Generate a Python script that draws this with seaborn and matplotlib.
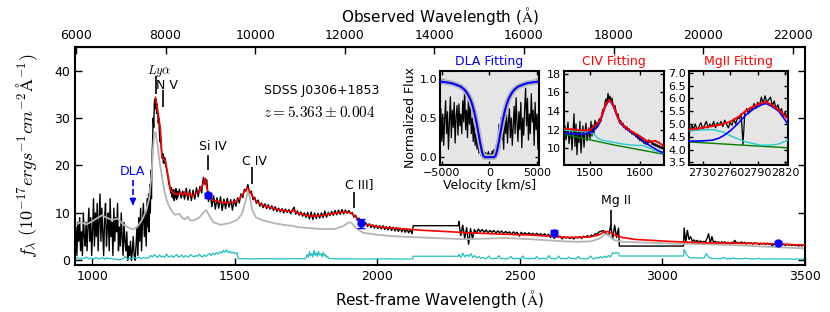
import matplotlib
matplotlib.use("Agg")
import matplotlib.pyplot as plt
import numpy as np
import seaborn as sns

z_qso = 5.363

# ---- main spectrum (rest-frame wavelength, flux in 1e-17 units) ----
# observed spectrum, in pieces: (start, stop) wavelength and flux values
forest_range = (940, 1196)
forest_flux = [3, 7, 1, 8, 4, 9, 2, 6, 1, 10, 5, 3, 8, 2, 7, 11, 4, 9, 1, 6,
               13, 3, 10, 5, 12, 2, 8, 14, 4, 11, 6, 1, 9, 12, 3, 7, 10, 2, 13, 5,
               8, 1, 11, 4, 9, 6, 12, 2, 7, 3, 10, 5, 1, 8, 4, 2, 6, 0, 3, 1,
               4, 0, 2, 5, 1, 0, 3, 7, 1, 9, 4, 11, 2, 8, 12, 5, 10, 3, 13, 7]
lya_range = (1198, 1298)
lya_flux = [14, 6, 16, 10, 19, 13, 22, 25, 30, 28, 33, 34, 32, 34, 31, 33, 31, 29, 30, 27,
            25, 26, 24, 22.5, 21.5, 22.5, 20.5, 21.8, 20.5, 21.5, 20, 19.5, 18.8, 18, 17.5,
            16.5, 16, 15.3, 15, 14.2, 15.3, 13.4, 14.8, 13.1, 14.9, 12.6, 14.3, 13.3, 15.1,
            12.8, 14.5]
cont_range = (1300, 2122)
cont_flux = [13.2, 15.0, 13.1, 14.6, 12.9, 15.2, 12.7, 14.9, 12.6, 14.8, 12.9, 15.3, 13.4,
             15.6, 14.2, 17.5, 16.0, 17.0, 12.4, 14.1, 11.3, 13.6, 10.8, 13.2, 11.0, 13.4,
             10.5, 12.9, 10.9, 13.1, 11.2, 12.8, 10.6, 12.9, 11.4, 13.2, 12.1, 14.0, 13.2,
             15.0, 14.6, 16.0, 14.2, 14.6, 12.8, 13.3, 12.0, 12.7, 11.4, 12.1, 11.1, 11.9,
             10.9, 11.7, 10.8, 11.5, 10.5, 11.3, 10.3, 11.0, 10.2, 10.9, 10.0, 10.8, 10.1,
             10.7, 9.8, 10.6, 11.2, 9.7, 10.4, 9.5, 10.2, 9.3, 10.0, 9.0, 10.1, 8.7, 10.2,
             8.6, 10.0, 8.8, 9.9, 8.9, 10.0, 9.0, 10.4, 9.1, 10.1, 9.4, 10.3, 9.5, 10.5,
             9.6, 10.6, 9.7, 10.7, 9.8, 10.6, 9.9, 10.5, 9.8, 10.1, 9.1, 9.5, 8.4, 8.9,
             7.8, 8.3, 7.4, 7.9, 7.1, 7.7, 6.9, 7.5, 6.8, 7.4, 6.7, 7.3, 6.6, 7.3, 6.5,
             7.1, 6.4, 7.1, 6.3, 7.0, 6.2, 6.9, 6.1, 6.8, 6.0, 6.7, 5.9, 6.6, 5.8, 6.5, 5.6]
gap1_wave = [2126, 2284]
gap1_flux = [7.3, 7.3]
mid_range = (2286, 2846)
mid_flux = [8.2, 5.2, 7.4, 4.6, 6.9, 3.4, 6.7, 4.5, 6.5, 5.7, 6.6, 6.0, 6.5, 5.9, 6.4,
            5.8, 6.3, 5.9, 6.3, 5.7, 6.2, 5.8, 6.2, 5.6, 6.1, 5.7, 6.0, 5.5, 6.0, 5.6,
            5.9, 5.1, 5.9, 5.5, 5.8, 5.4, 5.8, 5.4, 5.7, 5.3, 5.7, 5.3, 5.6, 5.2, 5.6,
            5.1, 5.5, 4.8, 5.4, 4.6, 5.3, 4.9, 5.1, 4.5, 5.0, 4.7, 4.9, 4.6, 4.9, 4.5,
            4.9, 4.7, 5.0, 4.6, 5.1, 4.8, 5.2, 4.9, 5.3, 5.1, 5.6, 5.5, 6.0, 6.1, 6.3,
            5.9, 5.5, 5.3, 7.5, 4.5, 7.4, 4.8, 6.8]
gap2_wave = [2849, 3074]
gap2_flux = [3.0, 3.0]
red_range = (3076, 3500)
red_end_flux = [6.8, 3.8, 6.3, 4.4, 5.0, 4.0, 4.3, 3.9, 4.2, 3.8, 4.1, 3.7, 4.0, 3.8, 4.6,
                5.6, 3.6, 5.0, 3.8, 4.0, 3.7, 3.9, 3.6, 3.9, 3.7, 3.9, 3.6, 3.8, 3.3, 3.8,
                3.6, 4.2, 3.6, 3.8, 3.5, 3.9, 3.5, 3.8, 3.4, 3.7, 3.5, 3.7, 3.4, 3.7, 3.5,
                3.6, 3.3, 3.6, 3.4, 3.6, 3.3, 3.6, 3.4, 3.5, 3.0, 3.5, 3.3, 3.5, 3.2, 3.4,
                3.2, 3.4, 3.1, 3.4, 3.2, 3.3, 3.1, 3.3, 3.1, 3.3, 3.0, 3.2, 3.0, 3.2, 3.1]

# error spectrum pieces
err_pieces = [
    ((940, 1196), [0.3, 0.6, 0.2, 0.5, 0.4, 0.7, 0.3, 0.5, 0.2, 0.6, 0.4, 0.3, 0.6, 0.2, 0.5,
                   0.3, 0.4, 0.2, 0.3, 0.1, 0.2, 0.3, 0.8, 0.2, 0.5, 0.3, 0.6, 0.4, 0.7, 0.3,
                   0.6, 0.4, 0.5]),
    ((1200, 1508), [0.6, 1.0, 0.7, 1.2, 0.8, 0.6, 1.1, 0.7, 0.9, 0.6, 1.3, 0.8, 0.7, 1.0, 0.6,
                    0.9, 1.2, 0.7, 0.8, 1.1, 0.6, 1.0, 0.8, 0.7, 1.2, 0.9, 0.7, 1.0, 0.8, 1.3,
                    0.9, 0.7, 1.1, 0.8, 1.2, 1.4, 1.0, 1.5, 1.2, 1.6, 1.3, 1.8, 1.5, 2.1, 1.7,
                    2.2, 1.6, 1.9, 1.5, 1.7, 1.4, 1.6]),
    ((1512, 1748), [0.35, 0.3, 0.3, 0.35, 0.3, 0.3, 0.35, 0.3]),
    ((1750, 1830), [0.5, 1.2, 0.6, 1.8, 0.9, 1.4, 0.7, 2.1, 1.0, 1.6, 0.8, 1.9, 1.1, 1.4, 0.7,
                    1.7, 0.9, 1.2, 0.6, 0.8, 0.4]),
    ((1832, 2124), [0.35, 0.3, 0.3, 0.25, 0.3, 0.3, 0.25, 0.3]),
    ((2126, 2284), [0.85, 0.85]),
    ((2286, 2846), [1.3, 0.6, 1.5, 0.7, 1.2, 0.8, 1.4, 0.6, 1.0, 0.5, 0.8, 0.4, 0.6, 0.35, 0.4,
                    0.9, 0.35, 0.3, 0.4, 0.35, 1.0, 0.3, 0.4, 0.35, 0.3, 0.4, 0.8, 0.35, 0.3,
                    0.4, 0.35, 0.3, 0.9, 0.35, 0.4, 0.3, 0.35, 0.4, 0.3, 0.8, 0.35, 0.3, 0.4,
                    0.35, 0.3, 1.0, 0.35, 0.4, 0.3, 0.35, 0.9, 0.3, 0.4, 0.35, 0.3, 0.7, 0.35,
                    0.4, 0.3, 0.35, 0.8, 0.3, 0.4, 0.35, 0.3, 0.4, 0.9, 0.35, 0.3, 0.6, 0.4,
                    0.8, 0.5, 0.9, 0.6, 1.0, 0.7, 1.6, 1.4, 1.6, 1.5]),
    ((2849, 3074), [0.9, 0.9]),
    ((3076, 3500), [2.3, 1.2, 0.6, 0.5, 0.55, 0.5, 0.45, 0.5, 0.45, 1.4, 0.6, 0.4, 0.35, 0.4,
                    0.3, 0.35, 0.6, 0.3, 0.35, 0.3, 0.5, 0.3, 0.3, 0.35, 0.3, 0.45, 0.3, 0.3,
                    0.25, 0.3, 0.4, 0.3, 0.25, 0.3, 0.25, 0.35, 0.25, 0.3, 0.25, 0.3, 0.25,
                    0.3, 0.25, 0.3, 0.2, 0.25, 0.3, 0.2, 0.25, 0.2]),
]

# composite template (gray)
comp_wave = [940, 960, 980, 1000, 1020, 1035, 1050, 1070, 1090, 1110, 1130, 1145, 1160, 1175,
             1190, 1200, 1208, 1214, 1218, 1222, 1228, 1236, 1244, 1252, 1262, 1275, 1290,
             1305, 1315, 1325, 1335, 1345, 1360, 1375, 1390, 1400, 1410, 1425, 1450, 1480,
             1510, 1525, 1538, 1546, 1552, 1562, 1575, 1600, 1640, 1680, 1700, 1720, 1760,
             1800, 1850, 1880, 1900, 1910, 1925, 1950, 2000, 2050, 2100, 2200, 2300, 2400,
             2450, 2550, 2650, 2700, 2750, 2780, 2798, 2810, 2830, 2860, 2950, 3050, 3150,
             3250, 3350, 3500]
comp_flux = [7.5, 8.0, 7.6, 8.2, 9.0, 9.5, 9.0, 8.5, 8.8, 7.5, 6.8, 6.5, 7.2, 8.5,
             10.5, 13.0, 18.0, 24.0, 27.0, 27.0, 25.0, 21.0, 18.0, 15.0, 12.5, 10.8, 9.6,
             9.8, 9.0, 8.6, 9.2, 8.4, 8.5, 9.0, 10.0, 10.6, 9.5, 8.0, 7.5, 7.8,
             8.6, 9.8, 12.5, 14.5, 13.5, 10.5, 9.0, 8.4, 7.8, 7.4, 7.3, 7.0, 6.8,
             6.6, 6.6, 7.2, 8.0, 7.9, 6.8, 5.8, 5.4, 5.1, 4.95, 4.7, 4.45, 4.6,
             4.7, 4.4, 4.0, 3.9, 4.0, 4.6, 5.5, 5.3, 4.3, 3.9, 3.7, 3.5, 3.4,
             3.2, 2.9, 2.5]

# model fit (red)
model_wave = [1222, 1230, 1239, 1245, 1250, 1257, 1265, 1275, 1286, 1300, 1310, 1318, 1326,
              1334, 1342, 1350, 1360, 1370, 1380, 1390, 1397, 1403, 1410, 1420, 1440, 1460,
              1480, 1500, 1515, 1530, 1545, 1555, 1570, 1590, 1615, 1640, 1660, 1685, 1700,
              1708, 1714, 1730, 1750, 1770, 1800, 1830, 1860, 1890, 1905, 1920, 1940, 1960,
              2000, 2050, 2100, 2150, 2200, 2320, 2440, 2550, 2670, 2740, 2775, 2800, 2812,
              2835, 2860, 2905, 3020, 3140, 3260, 3380, 3500]
model_flux = [34.4, 31.5, 28.0, 22.0, 21.5, 21.0, 18.3, 14.8, 14.1, 13.9, 14.3, 13.7, 14.5,
              13.6, 14.2, 13.5, 13.9, 14.4, 15.0, 16.2, 17.3, 15.0, 13.4, 12.8, 12.4, 12.2,
              12.1, 12.3, 12.9, 14.1, 15.3, 14.3, 12.8, 11.8, 11.3, 10.9, 10.6, 10.4, 10.2,
              10.7, 10.1, 9.8, 9.5, 9.3, 9.4, 9.7, 10.0, 10.2, 10.1, 9.4, 8.3, 7.6,
              7.1, 6.8, 6.6, 6.35, 6.2, 5.8, 5.5, 5.3, 4.8, 4.9, 5.3, 6.1, 6.0,
              5.3, 4.8, 4.4, 4.0, 3.7, 3.6, 3.5, 3.2]

# photometry
phot_wave = [1405, 1944, 2619, 3404]
phot_flux = [13.7, 7.8, 5.85, 3.75]
phot_err = [0.5, 0.9, 0.5, 0.4]

# emission line marks
line_names = ["$Ly\\alpha$", "N V", "Si IV", "C IV", "C III]", "Mg II"]
line_mark_x = [1225, 1250, 1406, 1559, 1920, 2818]
line_text_x = [1236, 1264, 1424, 1570, 1935, 2836]
line_text_y = [40.0, 36.8, 24.0, 20.8, 15.9, 12.7]
line_top = [38.8, 35.9, 22.2, 19.6, 14.4, 10.7]
line_bottom = [35.1, 32.3, 19.0, 16.2, 11.1, 7.2]

# ---- DLA inset ----
dla_range = (-5200, 5200)
dla_flux = [0.35, 0.62, 0.2, 0.55, 0.15, 0.48, 0.72, 0.3, 0.58, 0.1, 0.45, 0.77, 0.25, 0.6,
            0.38, 0.7, 0.18, 0.52, 0.66, 0.28, 0.68, 0.4, 0.55,
            0.3, 0.72, 0.45, 0.88, 0.35, 0.6, 0.25, 0.8, 0.42, 0.65, 0.3, 0.5, 0.2, 0.45, 0.15,
            0.3, 0.1, 0.22, 0.05, 0.12, 0.02, 0.08, 0.0, 0.05, 0.02, 0.06, 0.0, 0.03, 0.07,
            0.01, 0.04, 0.0, 0.08, 0.02, 0.1, 0.03, 0.15, 0.05,
            0.2, 0.42, 0.12, 0.5, 0.22, 0.38, 0.1, 0.6, 0.3, 0.55, 0.18, 0.45, 0.62, 0.25,
            0.5, 0.15, 0.4,
            0.65, 0.3, 0.76, 0.45, 0.2, 0.58, 0.35, 0.7, 0.12, 0.5, 0.28, 0.62, 0.88, 0.4,
            0.75, 0.22, 0.55, 0.3, 0.81, 0.45, 0.6, 0.15, 0.7, 0.35, 0.55, 0.1, 0.45]
voigt_vel = [-5200, -4500, -4000, -3500, -3000, -2600, -2300, -2000, -1800, -1600, -1400,
             -1200, -1000, -800, -650, -500, 0, 500, 650, 800, 1000, 1200, 1400, 1600,
             1800, 2000, 2300, 2600, 3000, 3500, 4000, 4500, 5200]
voigt_flux = [0.965, 0.955, 0.945, 0.925, 0.9, 0.86, 0.81, 0.74, 0.67, 0.58, 0.47,
              0.34, 0.2, 0.08, 0.02, 0.0, 0.0, 0.0, 0.02, 0.08, 0.2, 0.34, 0.47, 0.58,
              0.67, 0.74, 0.81, 0.86, 0.9, 0.925, 0.945, 0.955, 0.965]

# ---- C IV inset ----
civ_range = (1448, 1648)
civ_flux = [11.8, 12.4, 10.9, 11.6, 12.8, 10.5, 11.3, 12.1, 9.8, 11.5, 13.7, 10.2, 12.6, 9.3,
            11.8, 10.6, 12.9, 9.5, 11.2, 12.4, 10.1, 11.7, 12.7, 10.8, 11.4, 12.2, 11.0, 12.9,
            11.3, 12.5, 11.6, 13.0, 12.2, 12.8, 12.4, 13.1,
            13.2, 12.9, 13.8, 14.2, 14.0, 14.9, 15.3, 14.8, 15.9, 15.2, 15.6, 14.9, 15.4, 14.7,
            14.3, 14.6, 13.9, 13.5, 13.7, 13.1, 13.0,
            12.9, 12.5, 12.7, 12.2, 12.4, 12.0, 12.3, 11.9, 12.1, 11.7, 11.9, 11.5, 11.8, 11.4,
            11.6, 11.2, 11.4, 11.0, 11.2, 10.8, 11.1, 10.7, 10.9, 10.5, 10.8, 10.4, 10.7, 10.5,
            10.9, 10.6, 10.8, 10.4, 10.6, 10.3, 10.5, 10.2, 10.4, 10.1, 10.3, 10.0, 10.2, 10.0,
            10.3, 10.1]
civ_fit_wave = [1448, 1470, 1487, 1500, 1507, 1515, 1520, 1525, 1530, 1535, 1540, 1547, 1553,
                1560, 1570, 1580, 1590, 1600, 1613, 1622, 1630, 1638, 1648]
civ_total = [12.1, 12.0, 11.9, 12.0, 12.3, 12.6, 13.0, 13.7, 14.5, 15.0, 15.2, 14.6, 13.7,
             12.8, 12.3, 11.9, 11.6, 11.3, 10.8, 10.7, 10.8, 10.6, 10.2]
civ_broad = [11.6, 11.55, 11.5, 11.7, 11.9, 12.3, 12.8, 13.6, 14.4, 14.9, 15.1, 14.5, 13.6,
             12.7, 12.2, 11.8, 11.5, 11.1, 10.5, 10.2, 9.95, 9.7, 9.5]
civ_other_wave = [1448, 1470, 1490, 1500, 1508, 1515, 1522, 1535, 1560, 1580, 1595, 1605,
                  1615, 1630, 1648]
civ_other = [11.95, 11.85, 11.75, 11.7, 11.5, 11.1, 10.9, 10.75, 10.5, 10.35, 10.3, 10.3,
             10.1, 9.75, 9.45]
civ_cont_wave = [1448, 1548, 1648]
civ_cont = [11.5, 10.35, 9.35]

# ---- Mg II inset ----
mg_range = (2716, 2822)
mg_flux = [4.7, 4.95, 4.8, 5.0, 4.75, 4.9, 5.05, 4.8, 4.95, 5.1, 4.85, 5.0, 4.9, 5.1, 4.85,
           5.05, 4.95, 5.1, 4.9, 5.15, 5.0, 4.85, 5.05, 4.95, 5.2, 5.0, 5.25,
           5.2, 5.4, 4.2, 5.45, 5.6, 5.4, 5.65, 5.55, 5.8, 5.6, 5.85, 5.7, 6.05, 5.8, 6.1,
           5.85, 5.95, 6.05, 5.7, 5.9, 5.6, 5.75, 5.5, 5.6, 5.3, 5.45, 5.25]
mg_total_wave = [2715, 2730, 2741, 2750, 2760, 2770, 2778, 2786, 2795, 2799, 2805, 2813, 2823]
mg_total = [4.78, 4.85, 4.92, 4.98, 5.09, 5.3, 5.54, 5.7, 5.83, 5.87, 5.75, 5.55, 5.2]
mg_broad_wave = [2715, 2730, 2741, 2748, 2753, 2760, 2768, 2777, 2786, 2795, 2799, 2805,
                 2813, 2823]
mg_broad = [4.33, 4.34, 4.37, 4.45, 4.55, 4.73, 5.0, 5.35, 5.6, 5.76, 5.8, 5.7, 5.5, 5.0]
mg_other_wave = [2715, 2730, 2741, 2752, 2763, 2777, 2790, 2795, 2805, 2813, 2823]
mg_other = [4.73, 4.77, 4.78, 4.69, 4.5, 4.3, 4.2, 4.17, 4.18, 4.22, 4.37]
mg_cont_wave = [2715, 2823]
mg_cont = [4.3, 4.07]


def pieces(parts):
    xs, ys = [], []
    for (lo, hi), vals in parts:
        xs.append(np.linspace(lo, hi, len(vals)))
        ys.append(np.asarray(vals, dtype=float))
    return np.concatenate(xs), np.concatenate(ys)


def line(ax, x, y, color, lw, zorder=2):
    sns.lineplot(x=np.asarray(x, dtype=float), y=np.asarray(y, dtype=float), ax=ax,
                 color=color, lw=lw, estimator=None, sort=False, legend=False,
                 zorder=zorder)


def style_inset(ax):
    ax.set_facecolor("#e5e5e5")
    for s in ax.spines.values():
        s.set_linewidth(1.5)
        s.set_color("black")
    ax.tick_params(direction="in", top=True, right=True, length=3, width=1,
                   labelsize=8, pad=2)
    ax.set_xlabel("")
    ax.set_ylabel("")


sns.set_style("ticks")
plt.rcParams["font.family"] = ["DejaVu Sans"]
plt.rcParams["mathtext.fontset"] = "cm"
plt.rcParams["text.color"] = "black"
plt.rcParams["axes.labelcolor"] = "black"
plt.rcParams["xtick.color"] = "black"
plt.rcParams["ytick.color"] = "black"

spec_x, spec_y = pieces([
    (forest_range, forest_flux), (lya_range, lya_flux), (cont_range, cont_flux),
    ((gap1_wave[0], gap1_wave[1]), gap1_flux), (mid_range, mid_flux),
    ((gap2_wave[0], gap2_wave[1]), gap2_flux), (red_range, red_end_flux),
])
err_x, err_y = pieces(err_pieces)

fig = plt.figure(figsize=(8.3, 3.12), dpi=100)
ax = fig.add_axes([0.0904, 0.1506, 0.8795, 0.6987])

line(ax, spec_x, spec_y, "black", 1.0, zorder=1)
line(ax, comp_wave, comp_flux, "#b4b4b4", 1.3, zorder=2)
line(ax, err_x, err_y, "#22bfbf", 0.9, zorder=2)
line(ax, model_wave, model_flux, "red", 1.2, zorder=3)
ax.errorbar(phot_wave, phot_flux, yerr=phot_err, fmt="o", color="blue", ms=5,
            capsize=3, elinewidth=1.2, zorder=5)

for name, mx, tx, ty, top, bot in zip(line_names, line_mark_x, line_text_x,
                                      line_text_y, line_top, line_bottom):
    ax.vlines(mx, bot, top, color="black", lw=1.2, zorder=4)
    ax.text(tx, ty, name, ha="center", va="center", fontsize=9)

ax.plot([1143, 1143], [16.9, 12.6], ls="--", color="blue", lw=1.2)
ax.annotate("", xy=(1143, 11.0), xytext=(1143, 12.8),
            arrowprops=dict(arrowstyle="-|>", color="blue", lw=1.2, mutation_scale=9))
ax.text(1143, 18.8, "DLA", color="blue", ha="center", va="center", fontsize=9)

ax.text(1602, 35.9, "SDSS J0306+1853", ha="left", va="center", fontsize=9)
ax.text(1600, 31.1, "$z = 5.363 \\pm 0.004$", ha="left", va="center", fontsize=11)

ax.set_xlim(940, 3500)
ax.set_ylim(-1, 45)
ax.set_xticks([1000, 1500, 2000, 2500, 3000, 3500])
ax.set_yticks([0, 10, 20, 30, 40])
ax.tick_params(direction="in", right=True, length=5, width=1, labelsize=9)
for s in ax.spines.values():
    s.set_linewidth(1.5)
    s.set_color("black")
ax.set_xlabel("Rest-frame Wavelength ($\\mathrm{\\AA}$)", fontsize=11, labelpad=4)
ax.set_ylabel("$f_\\lambda\\ (10^{-17}ergs^{-1}cm^{-2}\\mathrm{\\AA}^{-1})$", fontsize=13,
              labelpad=10)

sec = ax.secondary_xaxis("top", functions=(lambda w: w * (1 + z_qso),
                                           lambda w: w / (1 + z_qso)))
sec.set_xticks(list(range(6000, 22001, 2000)))
sec.tick_params(direction="in", length=5, width=1, labelsize=9)
sec.set_xlabel("Observed Wavelength ($\\mathrm{\\AA}$)", fontsize=11, labelpad=5)

# DLA inset
ax1 = fig.add_axes([0.530, 0.4712, 0.1193, 0.3013])
dla_x, dla_y = pieces([(dla_range, dla_flux)])
line(ax1, dla_x, dla_y, "black", 0.9, zorder=1)
line(ax1, voigt_vel, voigt_flux, "#b8b8b8", 4.0, zorder=2)
line(ax1, voigt_vel, voigt_flux, "blue", 1.5, zorder=3)
style_inset(ax1)
ax1.set_xlim(-5200, 5200)
ax1.set_ylim(-0.1, 1.1)
ax1.set_xticks([-5000, 0, 5000])
ax1.set_yticks([0.0, 0.5, 1.0])
ax1.set_xlabel("Velocity [km/s]", fontsize=9, labelpad=1)
ax1.set_ylabel("Normalized Flux", fontsize=9, labelpad=2)
ax1.set_title("DLA Fitting", color="blue", fontsize=9, pad=4)

# C IV inset
ax2 = fig.add_axes([0.6795, 0.4712, 0.1205, 0.3013])
civ_x, civ_y = pieces([(civ_range, civ_flux)])
line(ax2, civ_x, civ_y, "black", 0.9, zorder=1)
line(ax2, civ_cont_wave, civ_cont, "green", 1.0, zorder=2)
line(ax2, civ_other_wave, civ_other, "#22cccc", 1.0, zorder=3)
line(ax2, civ_fit_wave, civ_broad, "blue", 1.2, zorder=4)
line(ax2, civ_fit_wave, civ_total, "red", 1.4, zorder=5)
style_inset(ax2)
ax2.set_xlim(1448, 1648)
ax2.set_ylim(8.2, 18.3)
ax2.set_xticks([1500, 1600])
ax2.set_yticks([10, 12, 14, 16, 18])
ax2.set_title("CIV Fitting", color="red", fontsize=9, pad=4)

# Mg II inset
ax3 = fig.add_axes([0.830, 0.4712, 0.1193, 0.3013])
mg_x, mg_y = pieces([(mg_range, mg_flux)])
line(ax3, mg_x, mg_y, "black", 0.9, zorder=1)
line(ax3, mg_cont_wave, mg_cont, "green", 1.0, zorder=2)
line(ax3, mg_other_wave, mg_other, "#22cccc", 1.0, zorder=3)
line(ax3, mg_broad_wave, mg_broad, "blue", 1.2, zorder=4)
line(ax3, mg_total_wave, mg_total, "red", 1.4, zorder=5)
style_inset(ax3)
ax3.set_xlim(2715, 2823)
ax3.set_ylim(3.4, 7.07)
ax3.set_xticks([2730, 2760, 2790, 2820])
ax3.set_yticks([3.5, 4.0, 4.5, 5.0, 5.5, 6.0, 6.5, 7.0])
ax3.set_yticklabels(["3.5", "4.0", "4.5", "5.0", "5.5", "6.0", "6.5", "7.0"])
ax3.set_title("MgII Fitting", color="red", fontsize=9, pad=4)

fig.savefig("out.png", dpi=100)
